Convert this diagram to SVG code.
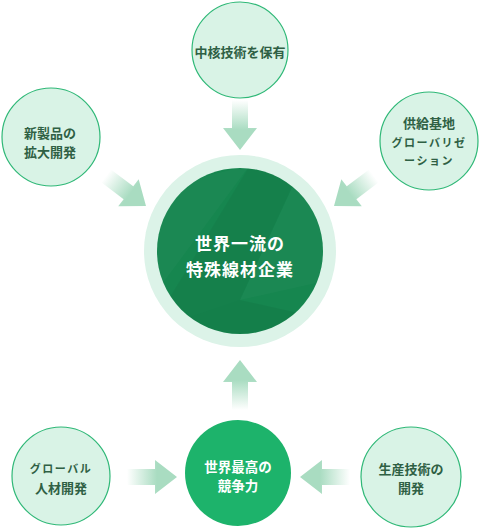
<svg xmlns="http://www.w3.org/2000/svg" width="480" height="529" viewBox="0 0 480 529">
<defs>
<style>
.sc{fill:#d9f3e6;stroke:#2fb877;stroke-width:1.2}
.st{font-family:"Noto Sans CJK JP","Noto Sans",sans-serif;font-size:13px;font-weight:700;fill:#2f6044;text-anchor:middle;dominant-baseline:central}
.kt{font-size:11px;letter-spacing:1.5px}
.wt{font-family:"Noto Sans CJK JP","Noto Sans",sans-serif;font-weight:700;fill:#ffffff;text-anchor:middle;dominant-baseline:central}
.ar{fill:url(#ag)}
</style>
<linearGradient id="ag" gradientUnits="userSpaceOnUse" x1="-50" y1="0" x2="-20" y2="0">
<stop offset="0" stop-color="#a9dcc1" stop-opacity="0"/>
<stop offset="1" stop-color="#a9dcc1" stop-opacity="1"/>
</linearGradient>
<path id="arrow" d="M0,0 L-22,-17 L-22,-8 L-50,-8 L-50,8 L-22,8 L-22,17 Z"/>
<clipPath id="cc"><circle cx="240" cy="251" r="83"/></clipPath>
</defs>

<g id="connectors">
<use href="#arrow" class="ar" transform="translate(240,150) rotate(90)"/>
<use href="#arrow" class="ar" transform="translate(146,206) rotate(37)"/>
<use href="#arrow" class="ar" transform="translate(334,206) rotate(143)"/>
<use href="#arrow" class="ar" transform="translate(240,360) rotate(-90)"/>
<use href="#arrow" class="ar" transform="translate(177,477)"/>
<use href="#arrow" class="ar" transform="translate(300,477) rotate(180)"/>
</g>

<g id="center">
<circle cx="240" cy="251" r="96" fill="#dcf3e8"/>
<circle cx="240" cy="251" r="83" fill="#16864f"/>
<g clip-path="url(#cc)">
<polygon points="250,165 300,170 240,300 150,330" fill="#000" opacity="0.04"/>
<polygon points="300,170 330,200 330,280 240,300" fill="#fff" opacity="0.025"/>
<polygon points="150,330 240,300 330,320 250,340" fill="#000" opacity="0.05"/>
<polygon points="150,190 250,165 180,260 150,300" fill="#fff" opacity="0.025"/>
</g>
<text class="wt" x="240" y="242" font-size="17" letter-spacing="1">世界一流の</text>
<text class="wt" x="240" y="268" font-size="17" letter-spacing="1">特殊線材企業</text>
</g>

<g id="top">
<circle class="sc" cx="240" cy="50" r="48"/>
<text class="st" x="240" y="51">中核技術を保有</text>
</g>

<g id="top-left">
<circle class="sc" cx="51" cy="137" r="49"/>
<text class="st" x="50" y="132">新製品の</text>
<text class="st" x="50" y="151">拡大開発</text>
</g>

<g id="top-right">
<circle class="sc" cx="429" cy="141" r="49"/>
<text class="st" x="429" y="122">供給基地</text>
<text class="st kt" x="429" y="142">グローバリゼ</text>
<text class="st kt" x="429" y="160">ーション</text>
</g>

<g id="bottom-left">
<circle class="sc" cx="61" cy="476" r="49"/>
<text class="st kt" x="61" y="468">グローバル</text>
<text class="st" x="61" y="487">人材開発</text>
</g>

<g id="bottom-center">
<circle cx="238" cy="473" r="53" fill="#1db36b"/>
<text class="wt" x="238" y="466" font-size="13.5">世界最高の</text>
<text class="wt" x="238" y="485" font-size="13.5">競争力</text>
</g>

<g id="bottom-right">
<circle class="sc" cx="411" cy="477" r="50"/>
<text class="st" x="411" y="468">生産技術の</text>
<text class="st" x="411" y="487">開発</text>
</g>
</svg>
